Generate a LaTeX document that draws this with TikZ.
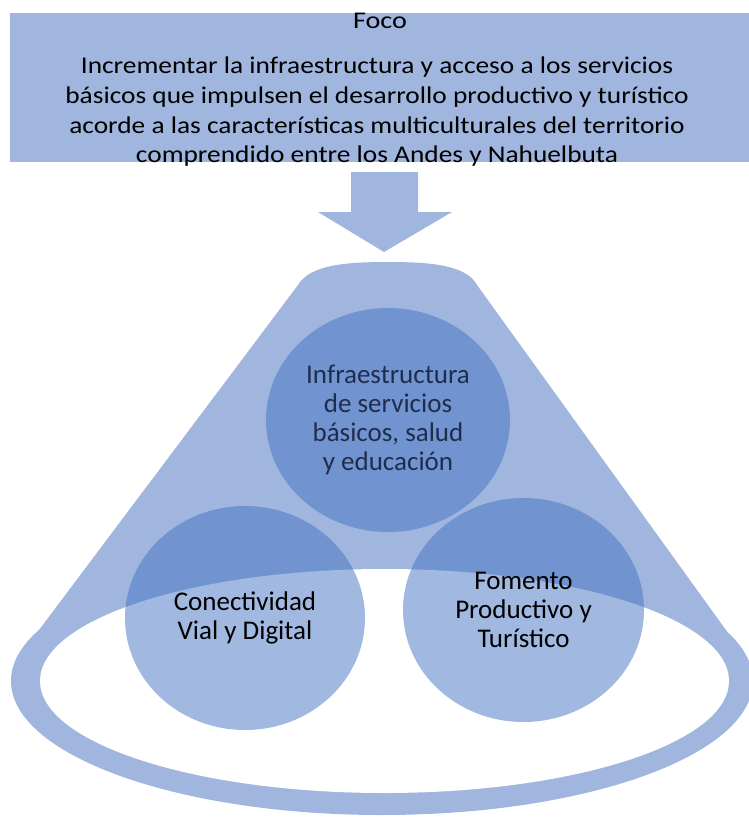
\documentclass[tikz,border=0pt]{standalone}
\usepackage{fontspec}
\setmainfont{Carlito}
\usetikzlibrary{positioning,shapes.geometric}
\definecolor{accent}{RGB}{68,114,196}
\definecolor{lightacc}{RGB}{160,182,222}
\definecolor{navytxt}{RGB}{31,45,77}

\begin{document}
\begin{tikzpicture} [x=1pt, y=-1pt, band/.style={fill=lightacc},
  headline/.style={xscale=1.14, transform shape, font=\fontsize{24}{29.7}\selectfont},
  bubble/.style={ellipse, fill=accent, fill opacity=0.5, text opacity=1, inner sep=0pt,
    minimum width=240pt, minimum height=224pt, align=center, font=\fontsize{27}{29}\selectfont}]

\useasboundingbox (0,0) rectangle (749,817);
\clip (0,0) rectangle (749,817);

% focus box and arrow
\fill[band] (10,13) rectangle (749,162);
\node [headline, xscale=1.03] (foco) at (380,21) {Foco};
\node [headline, align=center] (meta) at (377,112)
	{Incrementar la infraestructura y acceso a los servicios\\
	 básicos que impulsen el desarrollo productivo y turístico\\
	 acorde a las características multiculturales del territorio\\
	 comprendido entre los Andes y Nahuelbuta};
\fill[band] (351,172) -- (418,172) -- (418,212) -- (452,212) -- (384,252)
	-- (318,212) -- (351,212) -- cycle;

% funnel
\fill[band] (298,285) .. controls (310,264) and (350,262) .. (388,262)
	.. controls (426,262) and (466,264) .. (477,285) -- (749,662) -- (15,662) -- cycle;
\fill[band] (382,681) ellipse [x radius=371pt, y radius=134pt];
\fill[white] (384.5,681) ellipse [x radius=344.5pt, y radius=112pt];

% circles
\node [bubble, minimum width=244pt, text=navytxt] (infra) at (388,420)
	{Infraestructura\\de servicios\\básicos, salud\\y educación};
\node [bubble] (conect) at (245,618) {Conectividad\\Vial y Digital};
\node [bubble, minimum width=241pt] (fomento) at (523.5,610) {Fomento\\Productivo y\\Turístico};

\end{tikzpicture}
\end{document}
